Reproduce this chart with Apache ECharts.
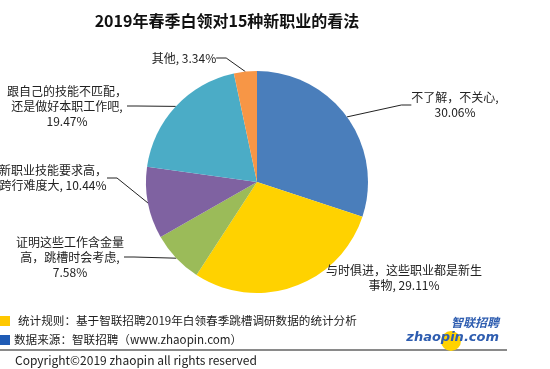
<!DOCTYPE html>
<html><head><meta charset="utf-8">
<script src="https://cdn.jsdelivr.net/npm/echarts@6/dist/echarts.min.js"></script>
<style>html,body{margin:0;padding:0;background:#fff}#c{width:550px;height:369px}</style>
</head><body><div id="c"></div>
<script>
const categories = ['不了解，不关心,', '与时俱进，这些职业都是新生\n事物,', '证明这些工作含金量\n高，跳槽时会考虑,', '新职业技能要求高，\n跨行难度大,', '跟自己的技能不匹配，\n还是做好本职工作吧,', '其他,'];
const values = [30.06, 29.11, 7.58, 10.44, 19.47, 3.34];
const valueText = ['30.06%', '29.11%', '7.58%', '10.44%', '19.47%', '3.34%'];
const labelSep = ['\n', ' ', '\n', ' ', '\n', ' '];
const colors = ['#4A7EBB', '#FFD200', '#9BBB59', '#7F62A1', '#4BACC6', '#F79646'];
const labelPos = [[455,105],[404,278],[70,257],[53,178],[67,106],[184,58]];

const FONT = '"Noto Sans CJK SC", "Noto Sans", sans-serif';
const chart = echarts.init(document.getElementById('c'));
chart.setOption({
  backgroundColor: '#fff',
  animation: false,
  title: {
    text: '2019年春季白领对15种新职业的看法',
    left: 222, top: 8, textAlign: 'center',
    textStyle: {fontFamily: FONT, fontSize: 16, fontWeight: 'bold', color: '#111'}
  },
  series: [{
    type: 'pie',
    center: [257, 182],
    radius: [0, 111],
    startAngle: 90,
    clockwise: true,
    silent: true,
    itemStyle: {borderWidth: 0},
    data: categories.map((c, i) => ({
      name: c, value: values[i],
      itemStyle: {color: colors[i]},
      label: {formatter: c + labelSep[i] + valueText[i]},
      labelLine: {show: i !== 1}
    })),
    label: {
      show: true, position: 'outside',
      fontFamily: FONT, fontSize: 12, color: '#222', lineHeight: 15, align: 'center'
    },
    labelLine: {show: true, length: 10, length2: 10, lineStyle: {color: '#222', width: 1}},
    labelLayout: function (p) {
      const pos = labelPos[p.dataIndex];
      return {x: pos[0], y: pos[1], align: 'center', verticalAlign: 'middle'};
    }
  }],
  graphic: [
    {type: 'rect', shape: {x: 0, y: 316, width: 10, height: 10}, style: {fill: '#FFC800'}},
    {type: 'rect', shape: {x: 0, y: 335, width: 10, height: 10}, style: {fill: '#1F5BB5'}},
    {type: 'text', x: 18, y: 321, style: {text: '统计规则：基于智联招聘2019年白领春季跳槽调研数据的统计分析', font: '11.6px ' + FONT, fill: '#222', verticalAlign: 'middle'}},
    {type: 'text', x: 14, y: 340, style: {text: '数据来源：智联招聘（www.zhaopin.com）', font: '11.6px ' + FONT, fill: '#222', verticalAlign: 'middle'}},
    {type: 'line', shape: {x1: 0, y1: 350, x2: 507, y2: 350}, style: {stroke: '#8a8a8a', lineWidth: 2}},
    {type: 'text', x: 15, y: 360, style: {text: 'Copyright©2019 zhaopin all rights reserved', font: '12px ' + FONT, fill: '#222', verticalAlign: 'middle'}},
    {type: 'circle', shape: {cx: 451, cy: 341, r: 10}, style: {fill: '#FFD200'}},
    {type: 'text', x: 499, y: 322, style: {text: '智联招聘', font: 'italic bold 12px ' + FONT, fill: '#2E5DB0', align: 'right', verticalAlign: 'middle'}},
    {type: 'text', x: 499, y: 338, style: {text: 'zhaopin.com', font: 'italic bold 13px "DejaVu Sans", sans-serif', fill: '#2E5DB0', align: 'right', verticalAlign: 'middle'}}
  ]
});
</script></body></html>
